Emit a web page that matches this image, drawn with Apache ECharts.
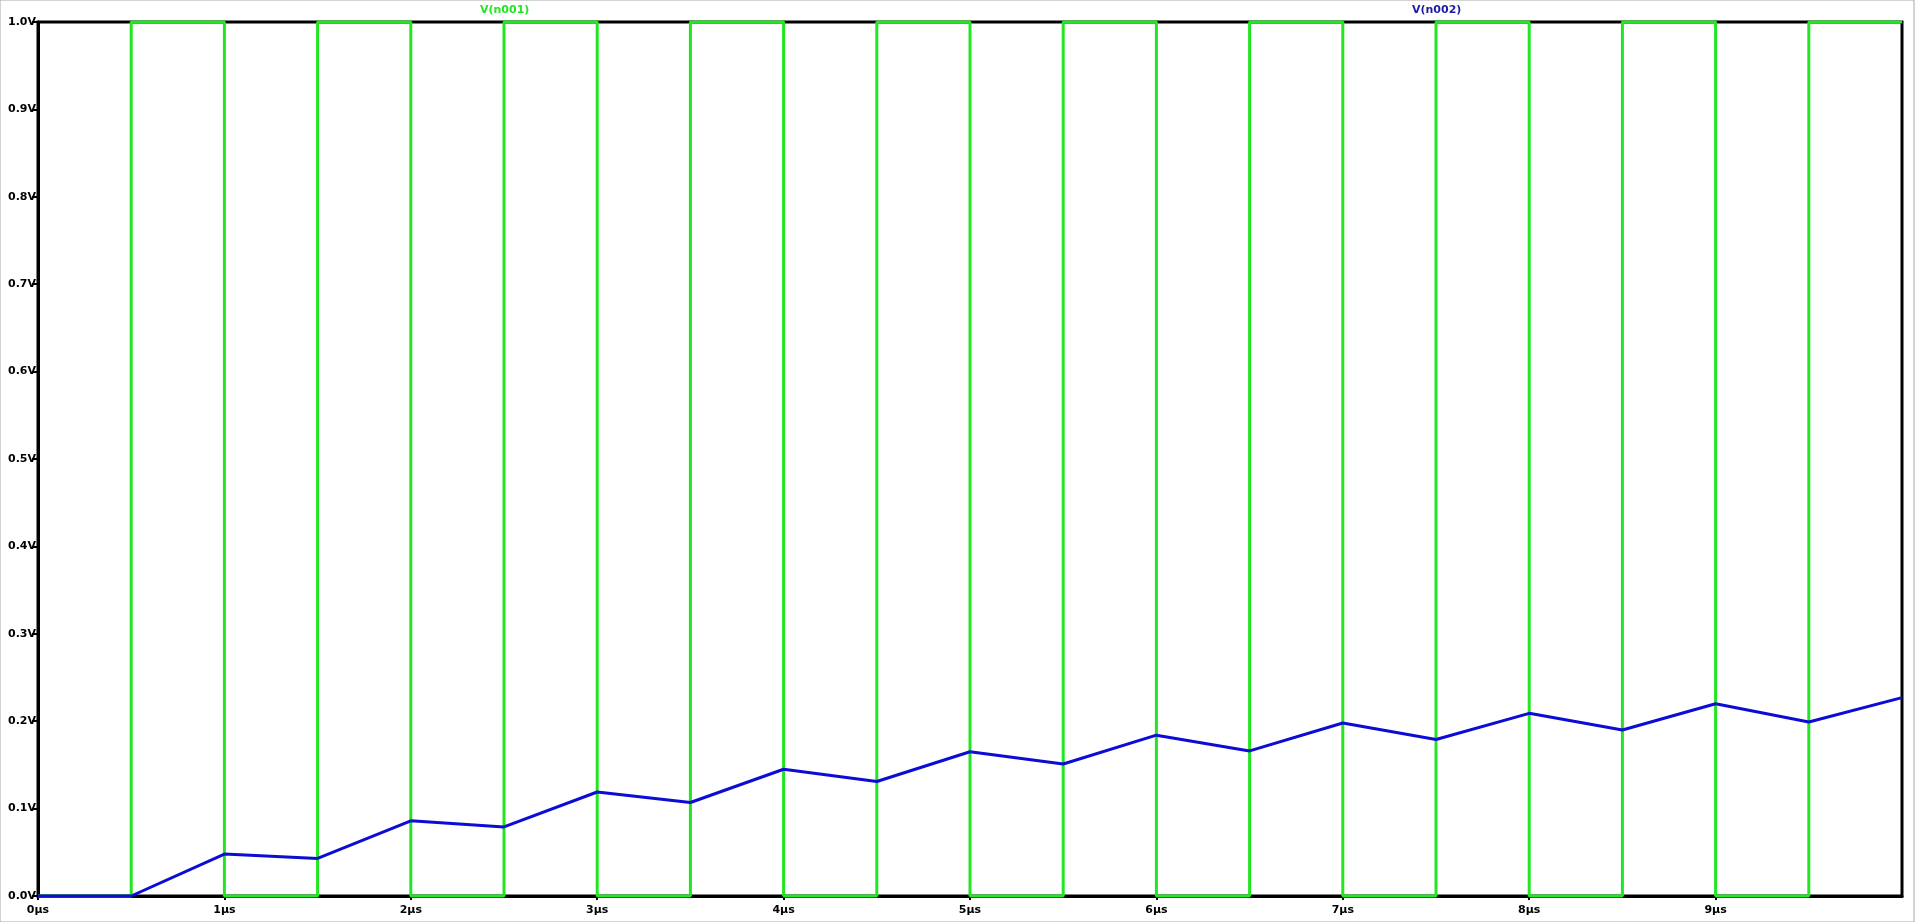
<!DOCTYPE html>
<html>
<head>
<meta charset="utf-8">
<script src="https://cdn.jsdelivr.net/npm/echarts@6/dist/echarts.min.js"></script>
<style>
html,body{margin:0;padding:0;background:#fff;}
#chart{width:1919px;height:922px;}
</style>
</head>
<body>
<div id="chart"></div>
<script>
// Time axis (µs) ticks and labels
const xTickValues = [0,1,2,3,4,5,6,7,8,9];
const yTickValues = [0,0.1,0.2,0.3,0.4,0.5,0.6,0.7,0.8,0.9,1.0];

// V(n001): square pulse
const vn001Time  = [0,0.5,0.5,1,1,1.5,1.5,2,2,2.5,2.5,3,3,3.5,3.5,4,4,4.5,4.5,5,5,5.5,5.5,6,6,6.5,6.5,7,7,7.5,7.5,8,8,8.5,8.5,9,9,9.5,9.5,10];
const vn001Value = [0,0,1,1,0,0,1,1,0,0,1,1,0,0,1,1,0,0,1,1,0,0,1,1,0,0,1,1,0,0,1,1,0,0,1,1,0,0,1,1];

// V(n002): charging node
const vn002Time  = [0,0.5,1,1.5,2,2.5,3,3.5,4,4.5,5,5.5,6,6.5,7,7.5,8,8.5,9,9.5,10];
const vn002Value = [0,0,0.048,0.043,0.086,0.079,0.119,0.107,0.145,0.131,0.165,0.151,0.184,0.166,0.198,0.179,0.209,0.190,0.220,0.199,0.227];

const seriesNames = ['V(n001)','V(n002)'];

const FONT = 'DejaVu Sans';
const chart = echarts.init(document.getElementById('chart'), null, {renderer:'canvas'});
chart.setOption({
  animation:false,
  backgroundColor:'#ffffff',
  grid:{left:38,top:22,width:1864,height:874,show:true,borderColor:'#000',borderWidth:3,backgroundColor:'#fff'},
  xAxis:{
    type:'value',min:0,max:10,interval:1,
    axisLine:{show:true,onZero:false,lineStyle:{color:'#000',width:3}},
    axisTick:{show:true,length:4,inside:false,lineStyle:{color:'#000',width:2},customValues:xTickValues},
    axisLabel:{color:'#000',fontFamily:FONT,fontWeight:'bold',fontSize:11,margin:9,
      customValues:xTickValues,formatter:v=>v+'µs'},
    splitLine:{show:false}
  },
  yAxis:{
    type:'value',min:0,max:1,interval:0.1,
    axisLine:{show:true,lineStyle:{color:'#000',width:3}},
    axisTick:{show:true,length:6,lineStyle:{color:'#000',width:2},customValues:yTickValues},
    axisLabel:{color:'#000',fontFamily:FONT,fontWeight:'bold',fontSize:11,margin:2,
      customValues:yTickValues,formatter:v=>v.toFixed(1)+'V'},
    splitLine:{show:false}
  },
  graphic:[
    {type:'text',left:480,top:5,style:{text:seriesNames[0],fill:'#22e622',font:'bold 11px "DejaVu Sans"'}},
    {type:'text',left:1412,top:5,style:{text:seriesNames[1],fill:'#1c1ca6',font:'bold 11px "DejaVu Sans"'}},
    {type:'rect',shape:{x:0,y:0,width:1914,height:922},style:{fill:'none',stroke:'#a8a8a8',lineWidth:1}}
  ],
  series:[
    {name:seriesNames[0],type:'line',showSymbol:false,clip:false,
     lineStyle:{color:'#22e622',width:3},
     data:vn001Time.map((t,i)=>[t,vn001Value[i]])},
    {name:seriesNames[1],type:'line',showSymbol:false,clip:false,
     lineStyle:{color:'#0c0cd4',width:3},
     data:vn002Time.map((t,i)=>[t,vn002Value[i]])}
  ]
});
</script>
</body>
</html>
